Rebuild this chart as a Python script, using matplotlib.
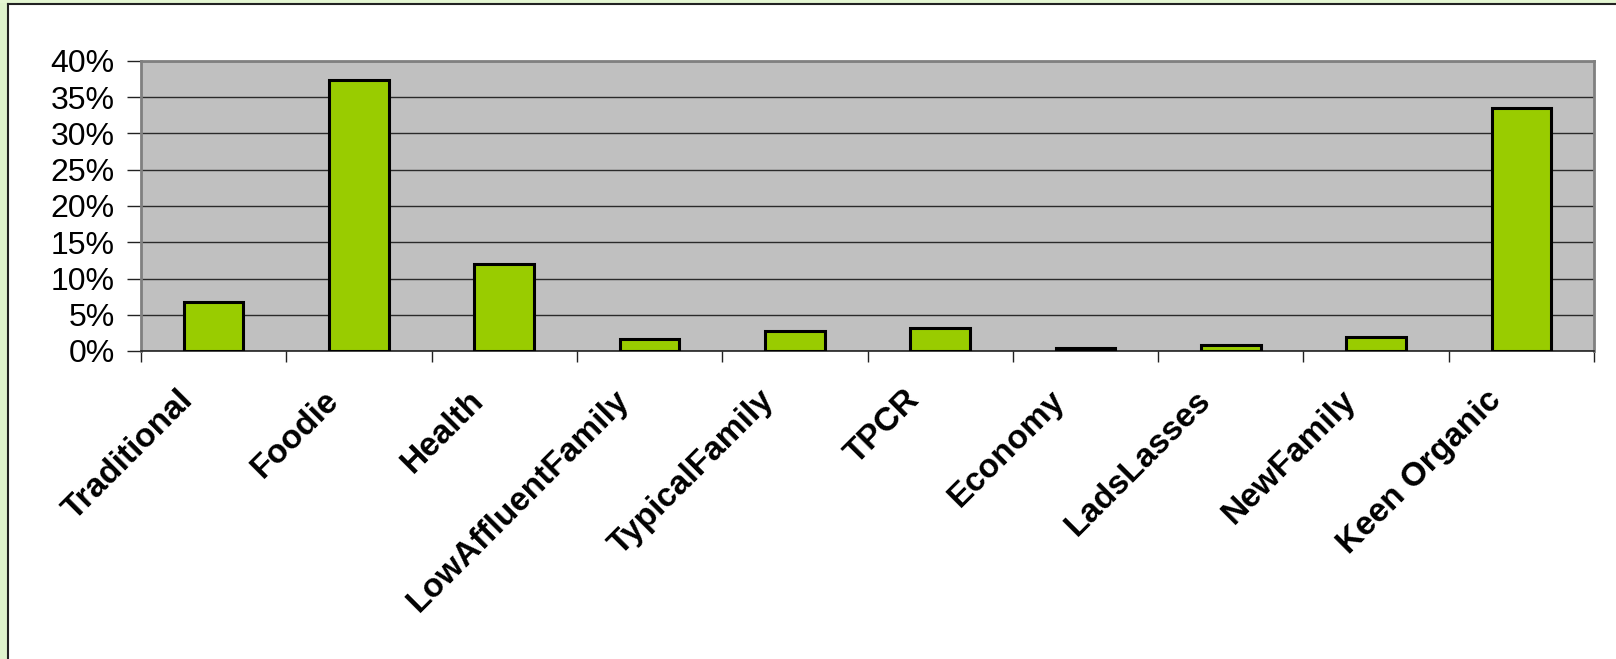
import matplotlib.pyplot as plt
import matplotlib.transforms as mtransforms
from matplotlib.patches import Rectangle
from matplotlib.ticker import FixedLocator, FuncFormatter

plt.rcParams['font.family'] = ['Liberation Sans', 'DejaVu Sans']

# data (share of customers, %)
segments = ['Traditional', 'Foodie', 'Health', 'LowAffluentFamily', 'TypicalFamily',
            'TPCR', 'Economy', 'LadsLasses', 'NewFamily', 'Keen Organic']
shares = [6.8, 37.4, 12.0, 1.6, 2.8, 3.2, 0.4, 0.8, 2.0, 33.5]
y_ticks = [0, 5, 10, 15, 20, 25, 30, 35, 40]

W, H = 1616, 659
fig = plt.figure(figsize=(W / 100, H / 100), dpi=100)
fig.patch.set_facecolor('white')

# light green frame strip on the left/top with a dark border line
fig.patches.append(Rectangle((0, 0), 7 / W, 1, transform=fig.transFigure,
                             facecolor='#dff3cc', edgecolor='none', zorder=0))
fig.patches.append(Rectangle((0, 1 - 3 / H), 1, 3 / H, transform=fig.transFigure,
                             facecolor='#e4f6d2', edgecolor='none', zorder=0))
fig.lines.append(plt.Line2D([7.5 / W, 7.5 / W], [0, 1 - 3.5 / H], transform=fig.transFigure,
                            color='#222222', lw=1.5))
fig.lines.append(plt.Line2D([7.5 / W, 1], [1 - 3.5 / H, 1 - 3.5 / H], transform=fig.transFigure,
                            color='#222222', lw=1.5))

left, right, top, bottom = 141, 1594, 61, 351
ax = fig.add_axes([left / W, 1 - bottom / H, (right - left) / W, (bottom - top) / H])
ax.set_facecolor('#c0c0c0')

x = list(range(len(segments)))
ax.bar(x, shares, width=0.41, color='#99cc00', edgecolor='black', linewidth=2.2, zorder=3)

ax.set_xlim(-0.5, len(segments) - 0.5)
ax.set_ylim(0, 40)

ax.set_yticks(y_ticks)
ax.yaxis.set_major_formatter(FuncFormatter(lambda v, p: f'{v:.0f}%'))
ax.tick_params(axis='y', direction='out', length=10, width=1, color='#222222',
               pad=9, labelsize=23)
ax.grid(axis='y', color='#2a2a2a', linewidth=1.0, zorder=1)

# ticks at category boundaries, labels at category centres
ax.xaxis.set_major_locator(FixedLocator([i - 0.5 for i in range(len(segments) + 1)]))
ax.xaxis.set_major_formatter(FuncFormatter(lambda v, p: ''))
ax.xaxis.set_minor_locator(FixedLocator(x))
ax.set_xticklabels(segments, minor=True, rotation=45, ha='right', va='top',
                   rotation_mode='anchor', fontsize=24, fontweight='bold')
ax.tick_params(axis='x', which='major', direction='out', length=8, width=1, color='#222222')
ax.tick_params(axis='x', which='minor', length=0, pad=24)
shift = mtransforms.ScaledTranslation(-36 / 100, 0, fig.dpi_scale_trans)
for lab in ax.get_xticklabels(minor=True):
    lab.set_transform(lab.get_transform() + shift)

for side in ['top', 'left', 'right']:
    ax.spines[side].set_color('#808080')
    ax.spines[side].set_linewidth(2)
ax.spines['bottom'].set_color('#222222')
ax.spines['bottom'].set_linewidth(1.2)

fig.savefig('out.png', dpi=100)
